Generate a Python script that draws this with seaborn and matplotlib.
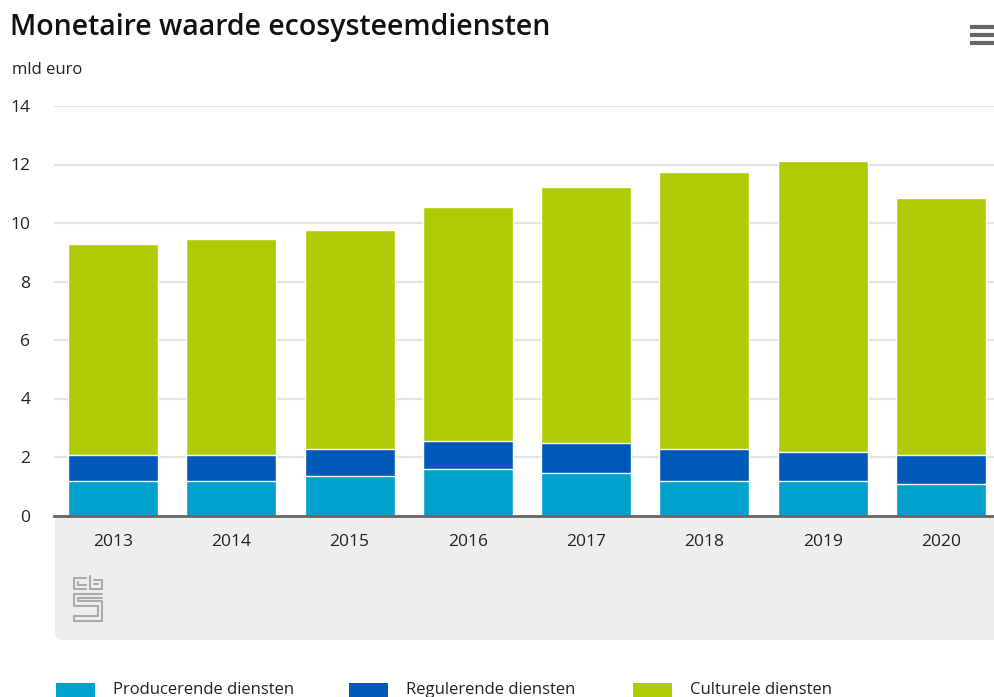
import numpy as np
import pandas as pd
import seaborn as sns
import matplotlib.pyplot as plt
from matplotlib.patches import FancyBboxPatch, Rectangle
from matplotlib.lines import Line2D

years = ["2013", "2014", "2015", "2016", "2017", "2018", "2019", "2020"]
producerend = [1.19, 1.19, 1.35, 1.58, 1.46, 1.19, 1.19, 1.07]
regulerend = [0.88, 0.88, 0.92, 0.98, 1.01, 1.08, 0.98, 1.00]
cultureel = [7.20, 7.37, 7.49, 7.98, 8.77, 9.47, 9.96, 8.78]
series = ["Producerende diensten", "Regulerende diensten", "Culturele diensten"]
colors = ["#00a1cd", "#0058b8", "#afcb05"]

sns.set_style("white")
plt.rcParams['font.family'] = ['Open Sans', 'DejaVu Sans']

df = pd.DataFrame({"jaar": years, "prod": producerend, "reg": regulerend, "cult": cultureel})
df["top_prod"] = df["prod"]
df["top_reg"] = df["prod"] + df["reg"]
df["top_cult"] = df["top_reg"] + df["cult"]

W, H = 995, 697
fig = plt.figure(figsize=(W / 100, H / 100), dpi=100)
px = fig.dpi_scale_trans  # inches; 1 inch = 100 px

# grey band below the axis
band = FancyBboxPatch((0.55, (H - 640) / 100), 9.6, 1.25,
                      boxstyle="round,pad=0,rounding_size=0.08",
                      transform=px, facecolor="#eeeeee", edgecolor="none", zorder=0)
fig.add_artist(band)

ax = fig.add_axes([54 / W, 1 - 515.5 / H, 946 / W, (515.5 - 106) / H])
ax.set_zorder(1)

# stacked bars drawn back to front
for col, c in zip(["top_cult", "top_reg", "top_prod"], colors[::-1]):
    sns.barplot(data=df, x="jaar", y=col, color=c, width=0.76,
                edgecolor="white", linewidth=1, saturation=1, ax=ax, zorder=3)

ax.set_ylim(0, 14)
ax.set_xlim(-0.5, 7.5)
ax.set_yticks(range(0, 15, 2))
ax.yaxis.grid(True, color="#e3e3e3", linewidth=1.5, zorder=0)
ax.set_axisbelow(True)
for s in ["top", "right", "left"]:
    ax.spines[s].set_visible(False)
ax.spines["bottom"].set_color("#666666")
ax.spines["bottom"].set_linewidth(2)
ax.spines["bottom"].set_zorder(5)
ax.set_xlabel("")
ax.set_ylabel("")
ax.tick_params(axis="y", length=0, pad=17, labelsize=12.5, labelcolor="#222222")
ax.tick_params(axis="x", length=0, pad=13, labelsize=12.5, labelcolor="#222222")

# title and unit
fig.text(10 / W, 1 - 28 / H, "Monetaire waarde ecosysteemdiensten", fontsize=20.5,
         fontweight="semibold", color="#111111", va="center", ha="left")
fig.text(12 / W, 1 - 70 / H, "mld euro", fontsize=12, color="#222222",
         va="center", ha="left")

# menu icon
for yy in [27, 35, 43]:
    fig.add_artist(Line2D([9.70, 9.95], [(H - yy) / 100] * 2, transform=px,
                          color="#666666", linewidth=3, solid_capstyle="butt"))

# cbs logo (approximation)
lc = "#aaaaaa"
logo = [
    [(86, 578), (74, 578), (74, 589), (86, 589)], [(78, 582), (78, 585), (86, 585)],
    [(90, 576), (90, 589), (102, 589), (102, 580), (94, 580)], [(94, 584), (98, 584)],
    [(102, 594), (74, 594), (74, 606), (98, 606), (98, 616), (74, 616), (74, 621), (102, 621), (102, 601), (78, 601), (78, 598), (102, 598)],
]
for seg in logo:
    xs = [p[0] / 100 for p in seg]
    ys = [(H - p[1]) / 100 for p in seg]
    fig.add_artist(Line2D(xs, ys, transform=px, color=lc, linewidth=1.5))

# legend
leg_x = [56, 349, 633]
for x0, lab, c in zip(leg_x, series, colors):
    fig.add_artist(Rectangle((x0 / 100, (H - 700) / 100), 0.39, 0.17,
                             transform=px, facecolor=c, edgecolor="none"))
    fig.text((x0 + 57) / W, 1 - 690 / H, lab, fontsize=12, color="#222222",
             va="center", ha="left")

fig.savefig("out.png", dpi=100)
